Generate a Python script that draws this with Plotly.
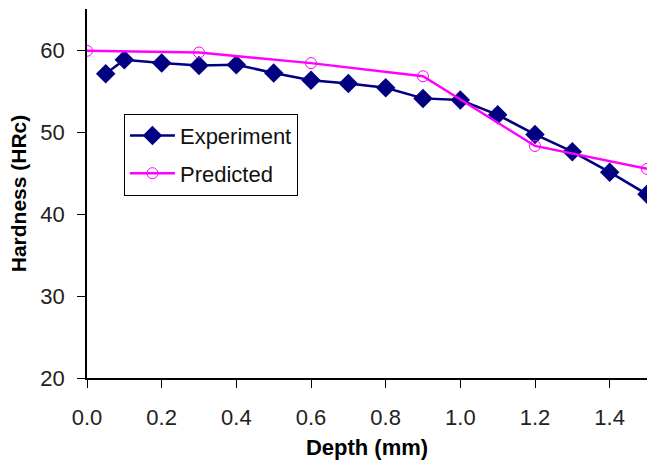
import plotly.graph_objects as go

exp_depth = [0.05, 0.1, 0.2, 0.3, 0.4, 0.5, 0.6, 0.7, 0.8, 0.9, 1.0, 1.1, 1.2, 1.3, 1.4, 1.5]
exp_hard = [57.1, 58.8, 58.4, 58.1, 58.2, 57.2, 56.3, 55.9, 55.4, 54.1, 53.9, 52.1, 49.7, 47.6, 45.1, 42.4]
pred_depth = [0.0, 0.3, 0.6, 0.9, 1.2, 1.5]
pred_hard = [59.9, 59.7, 58.4, 56.8, 48.3, 45.5]

x_ticks = [0.0, 0.2, 0.4, 0.6, 0.8, 1.0, 1.2, 1.4]
y_ticks = [20, 30, 40, 50, 60]

fig = go.Figure()
fig.add_trace(go.Scatter(
    x=exp_depth, y=exp_hard, mode="lines+markers", name="Experiment",
    legendgroup="a",
    line=dict(color="#000080", width=2.5),
    marker=dict(symbol="diamond", size=15, color="#000080"),
))
fig.add_trace(go.Scatter(
    x=pred_depth, y=pred_hard, mode="lines+markers", name="Predicted",
    legendgroup="b",
    line=dict(color="#FF00FF", width=2.5),
    marker=dict(symbol="circle-open", size=11, color="#FF00FF", line=dict(width=1)),
))

font = "Liberation Sans, Arial, sans-serif"
fig.update_layout(
    width=647, height=465,
    margin=dict(l=87, r=0, t=9, b=87),
    paper_bgcolor="white", plot_bgcolor="white",
    font=dict(family=font, size=17, color="black"),
    showlegend=True,
    legend=dict(
        x=0.066, y=0.716, xanchor="left", yanchor="top",
        bordercolor="black", borderwidth=1, bgcolor="white",
        font=dict(size=22, color="#111"),
        tracegroupgap=6, itemwidth=45,
    ),
    xaxis=dict(
        range=[0, 1.5], tickvals=x_ticks, tickformat=".1f",
        showline=True, linecolor="black", linewidth=1.5,
        ticks="outside", ticklen=8, tickcolor="black",
        ticklabelstandoff=11,
        showgrid=False, zeroline=False,
        title=dict(text="<b>Depth (mm)</b>", font=dict(size=22), standoff=10),
        tickfont=dict(size=22, color="#222"),
    ),
    yaxis=dict(
        range=[20, 65], tickvals=y_ticks,
        showline=True, linecolor="black", linewidth=1.5,
        ticks="outside", ticklen=8, tickcolor="black",
        ticklabelstandoff=8,
        showgrid=False, zeroline=False,
        title=dict(text="<b>Hardness (HRc)</b>", font=dict(size=21), standoff=8),
        tickfont=dict(size=22, color="#222"),
    ),
)

fig.write_html("out.html")
